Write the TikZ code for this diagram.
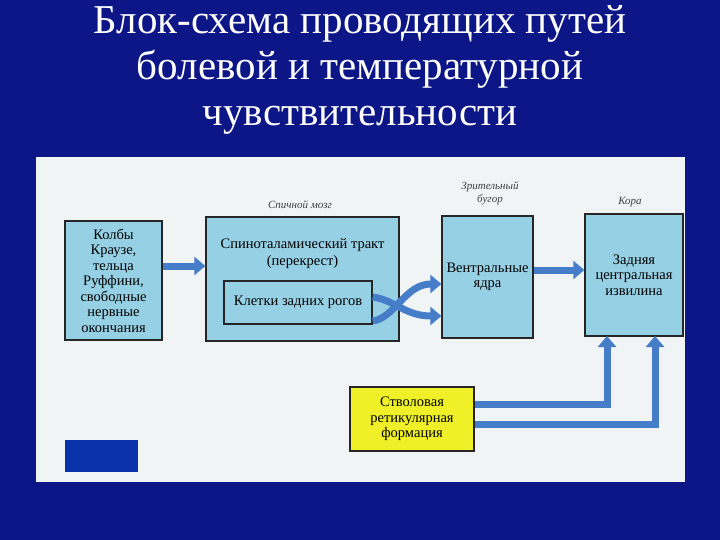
\documentclass[tikz,border=0pt]{standalone}
\usepackage{fontspec}
\setmainfont{Liberation Serif}
\usetikzlibrary{arrows.meta}
\definecolor{bg}{RGB}{12,22,135}
\definecolor{panel}{RGB}{240,244,244}
\definecolor{boxc}{RGB}{150,208,228}
\definecolor{arr}{RGB}{70,125,200}
\definecolor{yel}{RGB}{240,240,40}
\definecolor{sq}{RGB}{10,50,170}
\tikzset{
 blk/.style={draw=black!85,line width=1.3pt,fill=boxc,align=center,font=\fontsize{14.5}{15.5}\selectfont,inner sep=0pt},
 con/.style={draw=arr,line width=7pt,-{Triangle[length=11pt,width=18pt]}},
 lab/.style={font=\itshape\fontsize{11}{13}\selectfont,text=black!75,align=center},
 ttl/.style={text=white,font=\fontsize{41}{46}\selectfont,align=center}
}
\begin{document}
\begin{tikzpicture}[x=1pt,y=-1pt]
\fill[bg] (0,0) rectangle (720,540);
\useasboundingbox (0,0) rectangle (720,540);
\node[ttl] (t) at (360,70) {Блок-схема проводящих путей\\болевой и температурной\\чувствительности};
\fill[panel] (36,157) rectangle (685,482);
\node[lab] (l1) at (300,205) {Спичной мозг};
\node[lab] (l2) at (490,193) {Зрительный\\бугор};
\node[lab] (l3) at (630,202) {Кора};
\node[blk,minimum width=97pt,minimum height=119pt] (a) at (113.5,280.5) {Колбы\\Краузе,\\тельца\\Руффини,\\свободные\\нервные\\окончания};
\node[blk,minimum width=193pt,minimum height=124pt] (b) at (302.5,279) {};
\node[font=\fontsize{14.5}{17}\selectfont,align=center] (bt) at (302.5,254) {Спиноталамический тракт\\(перекрест)};
\node[blk,minimum width=148pt,minimum height=43pt] (c) at (298,302.5) {Клетки задних рогов};
\node[blk,minimum width=91pt,minimum height=122pt] (d) at (487.5,277) {Вентральные\\ядра};
\node[blk,minimum width=98pt,minimum height=122pt] (e) at (634,275) {Задняя\\центральная\\извилина};
\node[blk,fill=yel,minimum width=124pt,minimum height=64pt] (f) at (412,419) {Стволовая\\ретикулярная\\формация};
\fill[sq] (65,440) rectangle (138,472);
\draw[con] (a.east|-0,266) -- (b.west|-0,266);
\draw[con] (c.east|-0,297) .. controls (395,300) and (405,316) .. (d.west|-0,316);
\draw[con] (c.east|-0,321) .. controls (395,318) and (405,284) .. (d.west|-0,284);
\draw[con] (d.east|-0,270) -- (e.west|-0,270);
\draw[con] (f.east|-0,404) -| (607,336);
\draw[con] (f.east|-0,424) -| (655,336);
\end{tikzpicture}
\end{document}
